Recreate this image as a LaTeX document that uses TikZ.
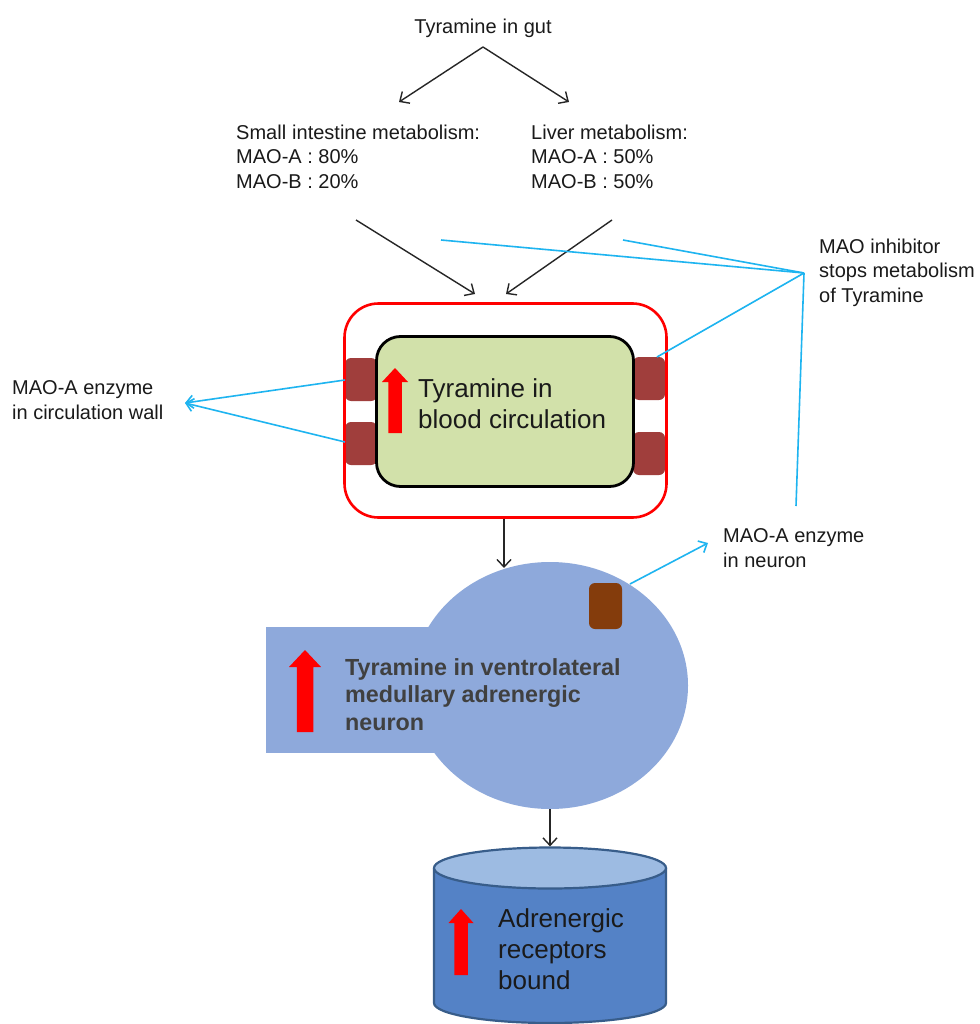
\documentclass[tikz,border=0pt]{standalone}
\usepackage{fontspec}
\setmainfont{Liberation Sans}
\usetikzlibrary{arrows.meta,shapes.geometric}
\definecolor{wallred}{RGB}{255,0,0}
\definecolor{plasma}{RGB}{210,225,170}
\definecolor{enz}{RGB}{160,62,60}
\definecolor{enzn}{RGB}{132,60,12}
\definecolor{neur}{RGB}{142,169,219}
\definecolor{cylbody}{RGB}{84,130,198}
\definecolor{cyltop}{RGB}{157,187,226}
\definecolor{cylline}{RGB}{56,93,138}
\definecolor{cyanl}{RGB}{30,180,240}
\definecolor{txtgray}{RGB}{64,64,64}
\definecolor{txtblack}{RGB}{26,26,26}
\newcommand{\redup}[6]{% cx, top, bottom, head width, shaft width, head height
  \fill[red] ({#1-#5/2},#3) -- ({#1-#5/2},{#2+#6}) -- ({#1-#4/2},{#2+#6}) -- (#1,#2)
    -- ({#1+#4/2},{#2+#6}) -- ({#1+#5/2},{#2+#6}) -- ({#1+#5/2},#3) -- cycle;}
\begin{document}
\begin{tikzpicture}[x=1pt,y=-1pt,
  lbl/.style={inner sep=0pt, anchor=north west, align=left, text=txtblack,
    font=\fontsize{20}{24.5}\selectfont},
  big/.style={inner sep=0pt, anchor=north west, align=left, text=txtblack,
    font=\fontsize{26}{31}\selectfont},
  blk/.style={black!85, line width=1.4pt, -{Straight Barb[length=7.5pt,width=14pt]}},
  cy/.style={cyanl, line width=1.6pt},
  cya/.style={cy, -{Straight Barb[length=7pt,width=13pt]}},
  enzbox/.style={fill=enz, draw=none, rounded corners=6pt, inner sep=0pt,
    minimum width=32pt, minimum height=43pt},
]
\useasboundingbox (0,0) rectangle (979,1024);
\fill[white] (0,0) rectangle (979,1024);

% ---- texts at top
\node[inner sep=0pt, anchor=base, text=txtblack, font=\fontsize{20}{24.5}\selectfont]
  (gut) at (483,34) {Tyramine\hspace{0.3em}in gut};
\node[lbl] (si) at (236,124.5) {Small\hspace{0.3em}intestine metabolism:\\MAO-A : 80\%\\MAO-B : 20\%};
\node[lbl] (lv) at (531,124.5) {Liver metabolism:\\MAO-A : 50\%\\MAO-B : 50\%};
\node[lbl] (inh) at (819,238.5) {MAO inhibitor\\stops metabolism\\of Tyramine};
\node[lbl] (wall) at (12,380.5) {MAO-A enzyme\\in circulation wall};
\node[lbl] (nenz) at (723,528.5) {MAO-A enzyme\\in neuron};

% ---- circulation
\node[enzbox] (e1) at (361,379.5) {};
\node[enzbox] (e2) at (361,443.5) {};
\node[enzbox] (e3) at (649,378.5) {};
\node[enzbox] (e4) at (649,453.5) {};
\node[draw=wallred, line width=2.6pt, rounded corners=34pt, inner sep=0pt,
  minimum width=322pt, minimum height=214pt] (blood) at (505.5,410.5) {};
\node[draw=black, fill=plasma, line width=2.8pt, rounded corners=24pt, inner sep=0pt,
  minimum width=257pt, minimum height=150pt] (plasmabox) at (505,411.5) {};
\redup{395}{368}{433}{26}{13.5}{14}
\node[big] (bloodtxt) at (418,378.5) {Tyramine in\\blood circulation};

% ---- neuron
\fill[neur] (266,627) rectangle (440,753);
\node[ellipse, fill=neur, draw=none, inner sep=0pt, minimum width=276pt,
  minimum height=247pt] (neuron) at (550,685.5) {};
\node[fill=enzn, draw=none, rounded corners=6pt, inner sep=0pt,
  minimum width=33pt, minimum height=46pt] (e5) at (605.5,606) {};
\redup{305}{650}{732}{32}{16.5}{17}
\node[inner sep=0pt, anchor=north west, align=left, text=txtgray,
  font=\fontsize{23.3}{27.5}\selectfont\bfseries] (neurtxt) at (345,658)
  {Tyramine in ventrolateral\\medullary adrenergic\\neuron};

% ---- receptor cylinder
\fill[cylbody] (434,868) rectangle (666,1003);
\fill[cylbody] (550,1003) ellipse [x radius=116, y radius=20];
\draw[cylline, line width=2.2pt] (434,868) -- (434,1003)
  arc[start angle=180, end angle=0, x radius=116, y radius=20] -- (666,868);
\node[ellipse, fill=cyltop, draw=cylline, line width=2.2pt, inner sep=0pt,
  minimum width=232pt, minimum height=41pt] (cyl) at (550,868) {};
\redup{461}{909}{975}{25}{13.5}{14}
\node[big] (cyltxt) at (498,908.5) {Adrenergic\\receptors\\bound};

% ---- coordinates
\coordinate (apex) at (483,47);
\coordinate (toSI) at (399,102);
\coordinate (toLV) at (569,102);
\coordinate (siOut) at (356,220);
\coordinate (lvOut) at (612,220);
\coordinate (inA) at (475,294);
\coordinate (inB) at (506,294);
\coordinate (bOut) at (504,518.5);
\coordinate (nIn) at (504,568);
\coordinate (hub) at (804,273);
\coordinate (h1) at (441,240);
\coordinate (h2) at (623,240);
\coordinate (h3) at (657,357);
\coordinate (h4) at (796,506);
\coordinate (wallTip) at (185,403);
\coordinate (w1) at (345,380);
\coordinate (w2) at (345,442);
\coordinate (n1) at (630,584);
\coordinate (nTip) at (708,543);

% ---- black connectors
\draw[blk] (apex) -- (toSI);
\draw[blk] (apex) -- (toLV);
\draw[blk] (siOut) -- (inA);
\draw[blk] (lvOut) -- (inB);
\draw[blk] (bOut) -- (nIn);
\draw[blk] (neuron.south) -- (cyl.north);

% ---- blue connectors
\draw[cy] (hub) -- (h1);
\draw[cy] (hub) -- (h2);
\draw[cy] (hub) -- (h3);
\draw[cy] (hub) -- (h4);
\draw[cya] (w1) -- (wallTip);
\draw[cya] (w2) -- (wallTip);
\draw[cya] (n1) -- (nTip);
\end{tikzpicture}
\end{document}
